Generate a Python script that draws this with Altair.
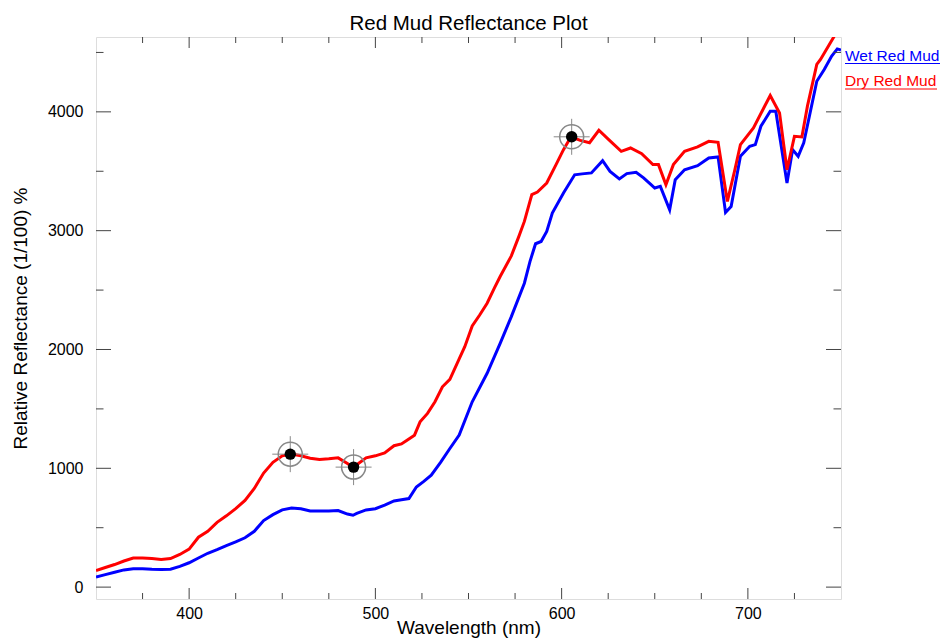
import altair as alt
import pandas as pd

# ---------------- data ----------------
wet_wl = [350, 355, 360, 365, 370, 375, 380, 385, 390, 395, 400, 405, 410, 415, 420, 425,
          430, 435, 440, 445, 450, 455, 460, 465, 470, 475, 480, 485, 488, 490, 495, 500,
          505, 510, 514, 518, 522, 526, 530, 535, 540, 545, 552, 560, 567, 573, 580, 583,
          586, 589, 592, 595, 601, 607, 611, 616, 622, 626, 631, 635, 640, 644, 648, 650,
          653, 658, 661, 666, 673, 679, 684, 688, 691, 696, 701, 704, 707, 712, 715, 721,
          724, 727, 730, 737, 741, 745, 748, 750]
wet_val = [85, 105, 125, 145, 155, 155, 150, 148, 150, 175, 205, 245, 285, 315, 350, 380,
           415, 470, 560, 610, 650, 665, 660, 640, 640, 640, 645, 615, 605, 620, 650, 660,
           690, 725, 735, 745, 843, 890, 942, 1050, 1167, 1280, 1560, 1800, 2052, 2277, 2558, 2740,
           2890, 2909, 2993, 3148, 3317, 3470, 3478, 3486, 3589, 3499, 3435, 3480, 3491, 3444, 3387, 3359,
           3373, 3176, 3429, 3513, 3547, 3612, 3621, 3153, 3204, 3626, 3710, 3724, 3879, 4005, 4005, 3401,
           3682, 3626, 3739, 4258, 4357, 4470, 4530, 4520]

dry_wl = [350, 355, 360, 365, 370, 375, 380, 385, 390, 395, 400, 405, 410, 415, 420, 425,
          430, 435, 440, 445, 450, 455, 460, 465, 470, 475, 480, 485, 488, 490, 495, 500,
          505, 510, 514, 517, 521, 524, 528, 532, 536, 540, 545, 548, 552, 556, 560, 564,
          567, 573, 577, 580, 584, 587, 592, 597, 601, 605, 610, 615, 620, 625, 632, 637,
          643, 649, 652, 656, 660, 666, 673, 679, 684, 689, 693, 696, 703, 709, 712, 717,
          721, 725, 729, 732, 737, 739, 746.5]
dry_val = [140, 165, 190, 220, 245, 245, 240, 233, 240, 275, 320, 420, 470, 545, 600, 660,
           730, 830, 960, 1050, 1105, 1120, 1105, 1085, 1075, 1080, 1088, 1040, 1007, 1030, 1088, 1105,
           1130, 1190, 1205, 1237, 1279, 1391, 1462, 1560, 1686, 1749, 1920, 2024, 2198, 2290, 2389, 2520,
           2614, 2788, 2950, 3078, 3303, 3325, 3401, 3556, 3682, 3790, 3760, 3740, 3845, 3770, 3668, 3696,
           3648, 3556, 3556, 3387, 3556, 3668, 3705, 3752, 3744, 3246, 3513, 3724, 3865, 4047, 4137, 3991,
           3513, 3794, 3789, 4050, 4399, 4441, 4640]

marker_wl = [454.3, 488.3, 605.4]
marker_val = [1119, 1010, 3790]

x_major = [400, 500, 600, 700]
x_minor = [375, 425, 450, 475, 525, 550, 575, 625, 650, 675, 725]
y_major = [0, 1000, 2000, 3000, 4000]
y_minor = [500, 1500, 2500, 3500, 4500]

series_names = ["Wet Red Mud", "Dry Red Mud"]
series_colors = ["#0000FF", "#FF0000"]

title_text = "Red Mud Reflectance Plot"
x_title = "Wavelength (nm)"
y_title = "Relative Reflectance (1/100) %"

# ---------------- layout / style ----------------
FONT = "Liberation Sans"
W, H = 745, 562
XDOM = [350, 750]
YDOM = [-100, 4630]
TICK_COLOR = "#444444"

xs = alt.Scale(domain=XDOM, nice=False, zero=False)
ys = alt.Scale(domain=YDOM, nice=False, zero=False)

x_axis = alt.Axis(values=x_major, format="d", title=x_title, ticks=False, tickSize=0, domain=False,
                  grid=False, labelFont=FONT, labelFontSize=16, labelColor="black", labelPadding=6,
                  titleFont=FONT, titleFontSize=19, titleFontWeight="normal", titleColor="black",
                  titleBaseline="alphabetic", titleY=34)
y_axis = alt.Axis(values=y_major, format="d", title=y_title, ticks=False, tickSize=0, domain=False,
                  grid=False, labelFont=FONT, labelFontSize=16, labelColor="black", labelPadding=13,
                  titleFont=FONT, titleFontSize=19, titleFontWeight="normal", titleColor="black",
                  titlePadding=17)

X = lambda f: alt.X(f, scale=xs, axis=x_axis)
Y = lambda f: alt.Y(f, scale=ys, axis=y_axis)

df_wet = pd.DataFrame({"wl": wet_wl, "val": wet_val})
df_dry = pd.DataFrame({"wl": dry_wl, "val": dry_val})
df_mark = pd.DataFrame({"wl": marker_wl, "val": marker_val})
df_one = pd.DataFrame({"k": [0]})

wet = alt.Chart(df_wet).mark_line(color=series_colors[0], strokeWidth=3, clip=True).encode(
    x=X("wl:Q"), y=Y("val:Q"))
dry = alt.Chart(df_dry).mark_line(color=series_colors[1], strokeWidth=3, clip=True).encode(
    x=X("wl:Q"), y=Y("val:Q"))

cross = alt.Chart(df_mark).mark_point(shape="M-1,0L1,0M0,-1L0,1", size=1296, filled=False,
                                      stroke="#888888", strokeWidth=1, opacity=1).encode(
    x=X("wl:Q"), y=Y("val:Q"))
ring = alt.Chart(df_mark).mark_point(shape="circle", size=576, filled=False,
                                     stroke="#888888", strokeWidth=1.5, opacity=1).encode(
    x=X("wl:Q"), y=Y("val:Q"))
dot = alt.Chart(df_mark).mark_point(shape="circle", size=130, filled=True,
                                    color="black", opacity=1).encode(
    x=X("wl:Q"), y=Y("val:Q"))


def x_ticks(vals, length):
    d = pd.DataFrame({"wl": vals})
    b = alt.Chart(d)
    bot = b.mark_rule(color=TICK_COLOR, strokeWidth=1).encode(
        x=X("wl:Q"), y=alt.value(H), y2=alt.value(H - length))
    top = b.mark_rule(color=TICK_COLOR, strokeWidth=1).encode(
        x=X("wl:Q"), y=alt.value(0), y2=alt.value(length))
    return [bot, top]


def y_ticks(vals, length):
    d = pd.DataFrame({"val": vals})
    b = alt.Chart(d)
    left = b.mark_rule(color=TICK_COLOR, strokeWidth=1).encode(
        y=Y("val:Q"), x=alt.value(0), x2=alt.value(length))
    right = b.mark_rule(color=TICK_COLOR, strokeWidth=1).encode(
        y=Y("val:Q"), x=alt.value(W), x2=alt.value(W - length))
    return [left, right]


ticks = x_ticks(x_major, 11) + x_ticks(x_minor, 6) + y_ticks(y_major, 15) + y_ticks(y_minor, 7.5)

legend_layers = []
leg_widths = [95, 92]
for i, (name, col) in enumerate(zip(series_names, series_colors)):
    base_y = 23.5 + 25.5 * i
    legend_layers.append(
        alt.Chart(df_one).mark_text(text=name, align="left", baseline="alphabetic", font=FONT,
                                    fontSize=15.5, color=col).encode(
            x=alt.value(W + 4), y=alt.value(base_y))
    )
    legend_layers.append(
        alt.Chart(df_one).mark_rule(color=col, strokeWidth=1).encode(
            x=alt.value(W + 4), x2=alt.value(W + 4 + leg_widths[i]), y=alt.value(base_y + 3))
    )

title_layer = alt.Chart(df_one).mark_text(text=title_text, align="center", baseline="alphabetic",
                                          font=FONT, fontSize=20.5, color="black").encode(
    x=alt.value(W / 2), y=alt.value(-7))

chart = alt.layer(wet, dry, *ticks, cross, ring, dot, *legend_layers, title_layer).properties(
    width=W, height=H,
    autosize=alt.AutoSizeParams(type="none"),
    padding={"left": 88, "top": 29, "right": 99, "bottom": 40},
).configure_view(stroke="#222222", strokeWidth=1.2).configure(background="white")

chart.save("out.html", embed_options={"renderer": "svg", "actions": False})
